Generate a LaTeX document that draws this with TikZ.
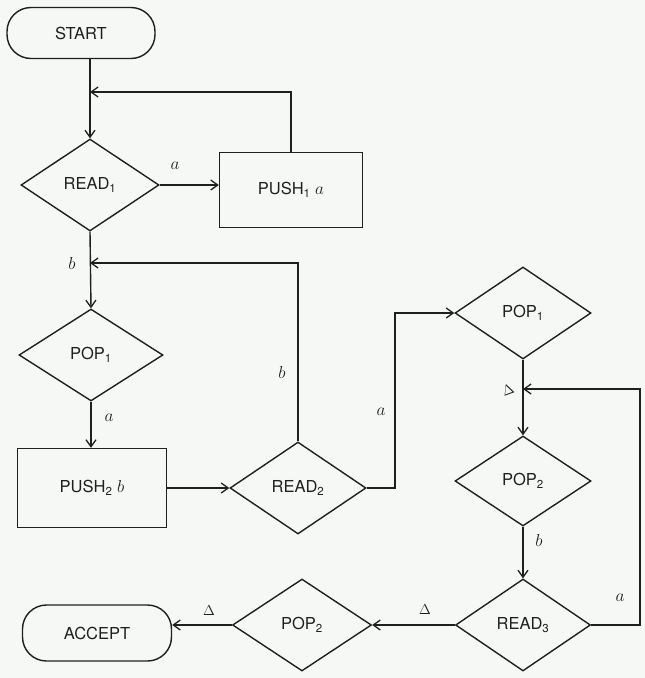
\documentclass[tikz,border=0pt]{standalone}
\usepackage{fontspec}
\setmainfont{TeX Gyre Heros}
\usetikzlibrary{shapes.geometric,arrows.meta}
\definecolor{paper}{rgb}{0.965,0.972,0.965}
\definecolor{ink}{rgb}{0.12,0.12,0.12}
\begin{document}
\begin{tikzpicture}[x=1pt,y=-1pt,
  line width=1.4pt, draw=ink, text=ink,
  every node/.style={font=\fontsize{16.5}{19}\selectfont},
  dec/.style={draw=ink,diamond,minimum width=138pt,minimum height=92pt,inner sep=0pt},
  box/.style={draw=ink,rectangle,inner sep=0pt},
  term/.style={draw=ink,rectangle,rounded corners=24pt,inner sep=0pt},
  arr/.style={-{Straight Barb[length=7pt,width=10pt,line width=1.3pt]}},
  lbl/.style={font=\fontsize{18}{20}\selectfont},
  dlt/.style={font=\fontsize{14}{16}\selectfont},
]
\fill[paper] (0,0) rectangle (645,678);
\useasboundingbox (0,0) rectangle (645,678);

% left column
\node[term, minimum width=148pt, minimum height=51pt] (start) at (81,33) {START};
\node[dec] (read1) at (90,185) {READ\textsubscript{1}};
\node[box, minimum width=143pt, minimum height=75pt] (push1) at (291,190) {PUSH\textsubscript{1} $a$};
\node[dec, minimum width=144pt] (pop1) at (91,355) {POP\textsubscript{1}};
\node[box, minimum width=149pt, minimum height=79pt] (push2) at (92,488) {PUSH\textsubscript{2} $b$};
\node[dec, minimum width=136pt] (read2) at (298,488) {READ\textsubscript{2}};

% right column
\node[dec, minimum width=136pt] (pop1b) at (523,313) {POP\textsubscript{1}};
\node[dec, minimum width=136pt, minimum height=90pt] (pop2) at (523,481) {POP\textsubscript{2}};
\node[dec, minimum width=135pt] (read3) at (523,625) {READ\textsubscript{3}};

% bottom row
\node[dec, minimum width=139pt] (pop2b) at (302,625) {POP\textsubscript{2}};
\node[term, minimum width=149pt, minimum height=56pt] (accept) at (97,633) {ACCEPT};

% junctions where loops come back
\coordinate (j1) at (90,92);
\coordinate (j2) at (90,263);
\coordinate (j3) at (523,389);
\coordinate (ac) at (395,313);
\coordinate (rc) at (640,389);

% connectors
\draw[arr] (start.south -| read1.north) -- (read1.north);
\draw[arr] (push1.north) |- (j1);
\draw[arr] (read1.east) -- (push1.west |- read1.east);
\draw[arr] (read1.south) -- (pop1.north);
\draw[arr] (read2.north) |- (j2);
\draw[arr] (pop1.south) -- (push2.north -| pop1.south);
\draw[arr] (push2.east) -- (read2.west);
\draw[arr] (read2.east) -| (ac) -- (pop1b.west);
\draw[arr] (pop1b.south) -- (pop2.north);
\draw[arr] (read3.east) -- (read3.east -| rc) |- (j3);
\draw[arr] (pop2.south) -- (read3.north);
\draw[arr] (read3.west) -- (pop2b.east);
\draw[arr] (pop2b.west) -- (accept.east |- pop2b.west);

% branch labels
\node[lbl] (la1) at (175,166) {$a$};
\node[lbl] (lb1) at (72,263) {$b$};
\node[lbl] (la2) at (109,418) {$a$};
\node[lbl] (lb2) at (282,372) {$b$};
\node[lbl] (la3) at (381,412) {$a$};
\node[dlt, rotate=20] (ld1) at (508,390) {$\Delta$};
\node[lbl] (lb3) at (539,540) {$b$};
\node[lbl] (la4) at (620,598) {$a$};
\node[dlt] (ld2) at (425,610) {$\Delta$};
\node[dlt] (ld3) at (209,611) {$\Delta$};
\end{tikzpicture}
\end{document}
